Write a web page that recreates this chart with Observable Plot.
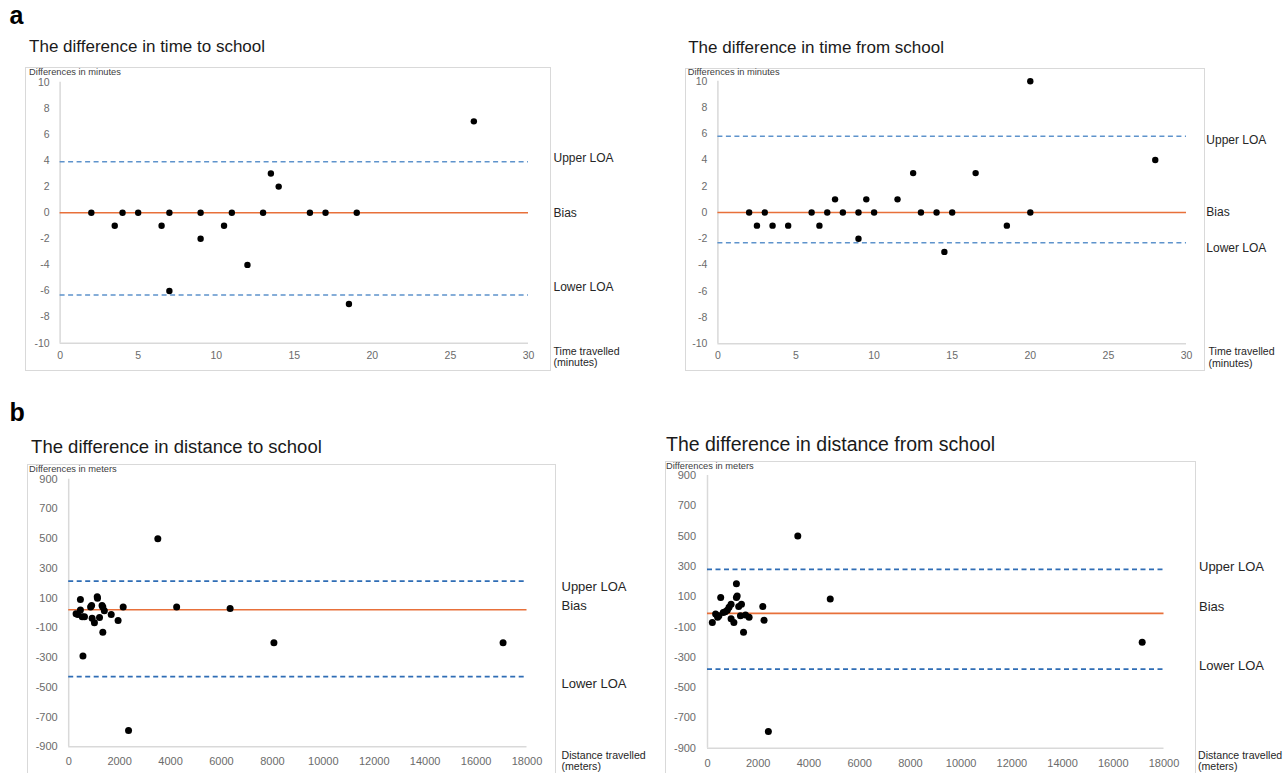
<!DOCTYPE html>
<html><head><meta charset="utf-8">
<script src="https://cdn.jsdelivr.net/npm/d3@7"></script>
<script src="https://cdn.jsdelivr.net/npm/@observablehq/plot@0.6"></script>
<style>
html,body{margin:0;padding:0;background:#fff;width:1285px;height:773px;overflow:hidden;}
#page{position:relative;width:1285px;height:773px;overflow:hidden;}
.panel{position:absolute;}
.panel svg{display:block;max-width:none;}
.box{position:absolute;border:1px solid #d9d9d9;box-sizing:border-box;}
</style></head><body><div id="page"></div>
<script>
// ---------- data ----------
const timeTicksX = [0, 5, 10, 15, 20, 25, 30];
const timeTicksY = [-10, -8, -6, -4, -2, 0, 2, 4, 6, 8, 10];
const distTicksX = [0, 2000, 4000, 6000, 8000, 10000, 12000, 14000, 16000, 18000];
const distTicksY = [-900, -700, -500, -300, -100, 100, 300, 500, 700, 900];

// a-left: time to school
const timeToX    = [2, 3.5, 4, 5, 6.5, 7, 7, 9, 9, 10.5, 11, 12, 13, 13.5, 14, 16, 17, 18.5, 19, 26.5];
const timeToDiff = [0, -1, 0, 0, -1, 0, -6, 0, -2, -1, 0, -4, 0, 3, 2, 0, 0, -7, 0, 7];
const timeToLOA  = {upper: 3.9, bias: 0, lower: -6.3};

// a-right: time from school
const timeFromX    = [2, 2.5, 3, 3.5, 4.5, 6, 6.5, 7, 7.5, 8, 9, 9, 9.5, 10, 11.5, 12.5, 13, 14, 14.5, 15, 16.5, 18.5, 20, 20, 28];
const timeFromDiff = [0, -1, 0, -1, -1, 0, -1, 0, 1, 0, 0, -2, 1, 0, 1, 3, 0, 0, -3, 0, 3, -1, 0, 10, 4];
const timeFromLOA  = {upper: 5.8, bias: 0, lower: -2.3};

// b-left: distance to school
const distToX    = [290, 460, 460, 360, 530, 620, 560, 860, 900, 920, 1010, 1120, 1130, 1210, 1310, 1340, 1400, 1340, 1670, 1940, 2140, 2350, 3500, 4240, 6340, 8060, 17060];
const distToDiff = [-5, 90, 20, -10, -25, -25, -290, 40, 50, -35, -65, 110, 100, -30, 50, 40, 15, -130, -10, -50, 40, -790, 500, 40, 30, -200, -200];
const distToLOA  = {upper: 214, bias: 22, lower: -428};

// b-right: distance from school
const distFromX    = [190, 320, 400, 450, 520, 620, 700, 780, 850, 930, 930, 1040, 1140, 1140, 1170, 1230, 1300, 1340, 1420, 1500, 1640, 2180, 2230, 2400, 3560, 4840, 17140];
const distFromDiff = [-70, -15, -35, -25, 95, -5, 0, 10, 30, 50, -45, -70, 185, 95, 105, 35, -25, 50, -135, -20, -35, 35, -55, -790, 500, 85, -200];
const distFromLOA  = {upper: 280, bias: -10, lower: -378};

const titles = ["The difference in time to school", "The difference in time from school",
                "The difference in distance to school", "The difference in distance from school"];
const yLabels = ["Differences in minutes", "Differences in meters"];
const xLabels = ["Time travelled\n(minutes)", "Distance travelled\n(meters)"];
const loaNames = ["Upper LOA", "Bias", "Lower LOA"];
const letters = ["a", "b"];

// ---------- drawing ----------
const FONT = "'Liberation Sans', Arial, sans-serif";
const page = document.getElementById("page");

function addBox(b) {
  const d = document.createElement("div");
  d.className = "box";
  d.style.left = b[0] + "px"; d.style.top = b[1] + "px";
  d.style.width = (b[2] - b[0]) + "px"; d.style.height = (b[3] - b[1]) + "px";
  page.appendChild(d);
}

function makePanel(p) {
  addBox(p.box);
  const mL = p.x0 - p.left, mR = p.left + p.width - p.x1;
  const mT = p.yTop - p.top, mB = p.top + p.height - p.yBot;
  const data = p.xs.map((x, i) => ({x, d: p.ds[i]}));
  const [xmin, xmax] = p.xDomain, [ymin, ymax] = p.yDomain;
  const loaVals = [p.loa.upper, p.loa.bias, p.loa.lower];
  const marks = [
    Plot.ruleX([xmin], {y1: ymin, y2: ymax, stroke: "#d9d9d9", strokeWidth: 1.5}),
    Plot.ruleY([ymin], {x1: xmin, x2: xmax, stroke: "#d9d9d9", strokeWidth: 1.5}),
    Plot.axisX({ticks: p.xTicks, tickSize: 0, tickPadding: p.xPad, fontSize: p.tickFs, fill: "#6b6b6b",
      label: null, tickFormat: d => String(d), fontFamily: FONT}),
    Plot.axisY({ticks: p.yTicks, tickSize: 0, tickPadding: p.yPad, fontSize: p.tickFs, fill: "#6b6b6b",
      label: null, tickFormat: d => String(d), fontFamily: FONT}),
    Plot.ruleY([p.loa.upper, p.loa.lower], {x1: xmin, x2: xmax, stroke: p.loaColor, strokeWidth: p.loaW, strokeDasharray: "5,3.5"}),
    Plot.ruleY([p.loa.bias], {x1: xmin, x2: xmax, stroke: "#E8703A", strokeWidth: 1.6}),
    Plot.dot(data, {x: "x", y: "d", r: p.r, fill: "#000", stroke: "none"}),
    // y-axis caption
    Plot.text([p.yLabel], {frameAnchor: "top-left", text: d => d, dx: p.yLab[0] - p.x0, dy: p.yLab[1] - p.yTop,
      lineAnchor: "bottom", textAnchor: "start", fontSize: 9.3, fill: "#404040", fontFamily: FONT}),
    // title
    Plot.text([p.title], {frameAnchor: "top-left", text: d => d, dx: p.titlePos[0] - p.x0, dy: p.titlePos[1] - p.yTop,
      lineAnchor: "bottom", textAnchor: "start", fontSize: p.titleFs, fill: "#1a1a1a", fontFamily: FONT}),
    // x caption
    Plot.text([p.xLabel], {x: xmax, y: ymin, text: d => d, dx: p.xLabDx, dy: p.xLabDy, lineAnchor: "middle",
      lineHeight: 1.1, textAnchor: "start", fontSize: 10.6, fill: "#262626", fontFamily: FONT})
  ];
  loaNames.forEach((name, i) => {
    marks.push(Plot.text([name], {x: xmax, y: loaVals[i], text: d => d, dx: p.labDx, dy: p.labDy[i],
      lineAnchor: "middle", textAnchor: "start", fontSize: p.labFs, fill: "#262626", fontFamily: FONT}));
  });
  if (p.letter) {
    marks.push(Plot.text([p.letter], {frameAnchor: "top-left", text: d => d, dx: p.letterPos[0] - p.x0,
      dy: p.letterPos[1] - p.yTop, lineAnchor: "bottom", textAnchor: "start", fontSize: 25, fontWeight: "bold",
      fill: "#000", fontFamily: FONT}));
  }
  const chart = Plot.plot({
    width: p.width, height: p.height,
    marginLeft: mL, marginRight: mR, marginTop: mT, marginBottom: mB,
    style: {fontFamily: FONT, background: "none", overflow: "visible"},
    x: {domain: p.xDomain},
    y: {domain: p.yDomain},
    marks
  });
  const wrap = document.createElement("div");
  wrap.className = "panel";
  wrap.style.left = p.left + "px"; wrap.style.top = p.top + "px";
  wrap.appendChild(chart);
  page.appendChild(wrap);
}

makePanel({
  left: 0, top: 0, width: 640, height: 380,
  x0: 59.6, x1: 528, yTop: 81.7, yBot: 342.7,
  box: [25, 66.7, 551, 371],
  xDomain: [0, 30], yDomain: [-10, 10], xTicks: timeTicksX, yTicks: timeTicksY,
  xs: timeToX, ds: timeToDiff, loa: timeToLOA,
  xPad: 8, yPad: 10.5, tickFs: 10.5, loaColor: "#5E93CC", loaW: 1.5, r: 3.2,
  title: titles[0], titlePos: [28.6, 51.5], titleFs: 17,
  yLabel: yLabels[0], yLab: [28.6, 74.7],
  xLabel: xLabels[0], xLabDx: 25, xLabDy: 13.6,
  labDx: 25, labDy: [-3.4, 0.5, -8], labFs: 12,
  letter: letters[0], letterPos: [9, 24]
});

makePanel({
  left: 640, top: 0, width: 645, height: 380,
  x0: 717.4, x1: 1186, yTop: 80.7, yBot: 343.3,
  box: [685.3, 67.7, 1204.6, 371],
  xDomain: [0, 30], yDomain: [-10, 10], xTicks: timeTicksX, yTicks: timeTicksY,
  xs: timeFromX, ds: timeFromDiff, loa: timeFromLOA,
  xPad: 8, yPad: 10.5, tickFs: 10.5, loaColor: "#5E93CC", loaW: 1.5, r: 3.2,
  title: titles[1], titlePos: [687.7, 53], titleFs: 17,
  yLabel: yLabels[0], yLab: [687.3, 74],
  xLabel: xLabels[0], xLabDx: 22, xLabDy: 13.2,
  labDx: 19.8, labDy: [4, 0, 5], labFs: 12
});

makePanel({
  left: 0, top: 390, width: 640, height: 383,
  x0: 68.2, x1: 526.5, yTop: 478.7, yBot: 746.3,
  box: [27, 464, 556, 790],
  xDomain: [0, 18000], yDomain: [-900, 900], xTicks: distTicksX, yTicks: distTicksY,
  xs: distToX, ds: distToDiff, loa: distToLOA,
  xPad: 10.5, yPad: 11, tickFs: 11, loaColor: "#2F6DB5", loaW: 1.8, r: 3.5,
  title: titles[2], titlePos: [30.6, 452.3], titleFs: 18.5,
  yLabel: yLabels[1], yLab: [28.6, 471.7],
  xLabel: xLabels[1], xLabDx: 34.5, xLabDy: 13.8,
  labDx: 34.5, labDy: [5.3, -4, 7], labFs: 13,
  letter: letters[1], letterPos: [9, 420.7]
});

makePanel({
  left: 640, top: 390, width: 645, height: 383,
  x0: 707, x1: 1163.5, yTop: 475, yBot: 747.7,
  box: [664.7, 461, 1195.6, 790],
  xDomain: [0, 18000], yDomain: [-900, 900], xTicks: distTicksX, yTicks: distTicksY,
  xs: distFromX, ds: distFromDiff, loa: distFromLOA,
  xPad: 10.5, yPad: 11.5, tickFs: 11, loaColor: "#2F6DB5", loaW: 1.8, r: 3.5,
  title: titles[3], titlePos: [665.5, 450.7], titleFs: 19.5,
  yLabel: yLabels[1], yLab: [665.5, 468.7],
  xLabel: xLabels[1], xLabDx: 34, xLabDy: 12.6,
  labDx: 35, labDy: [-2.2, -7, -3.6], labFs: 13
});
</script>
</body></html>
